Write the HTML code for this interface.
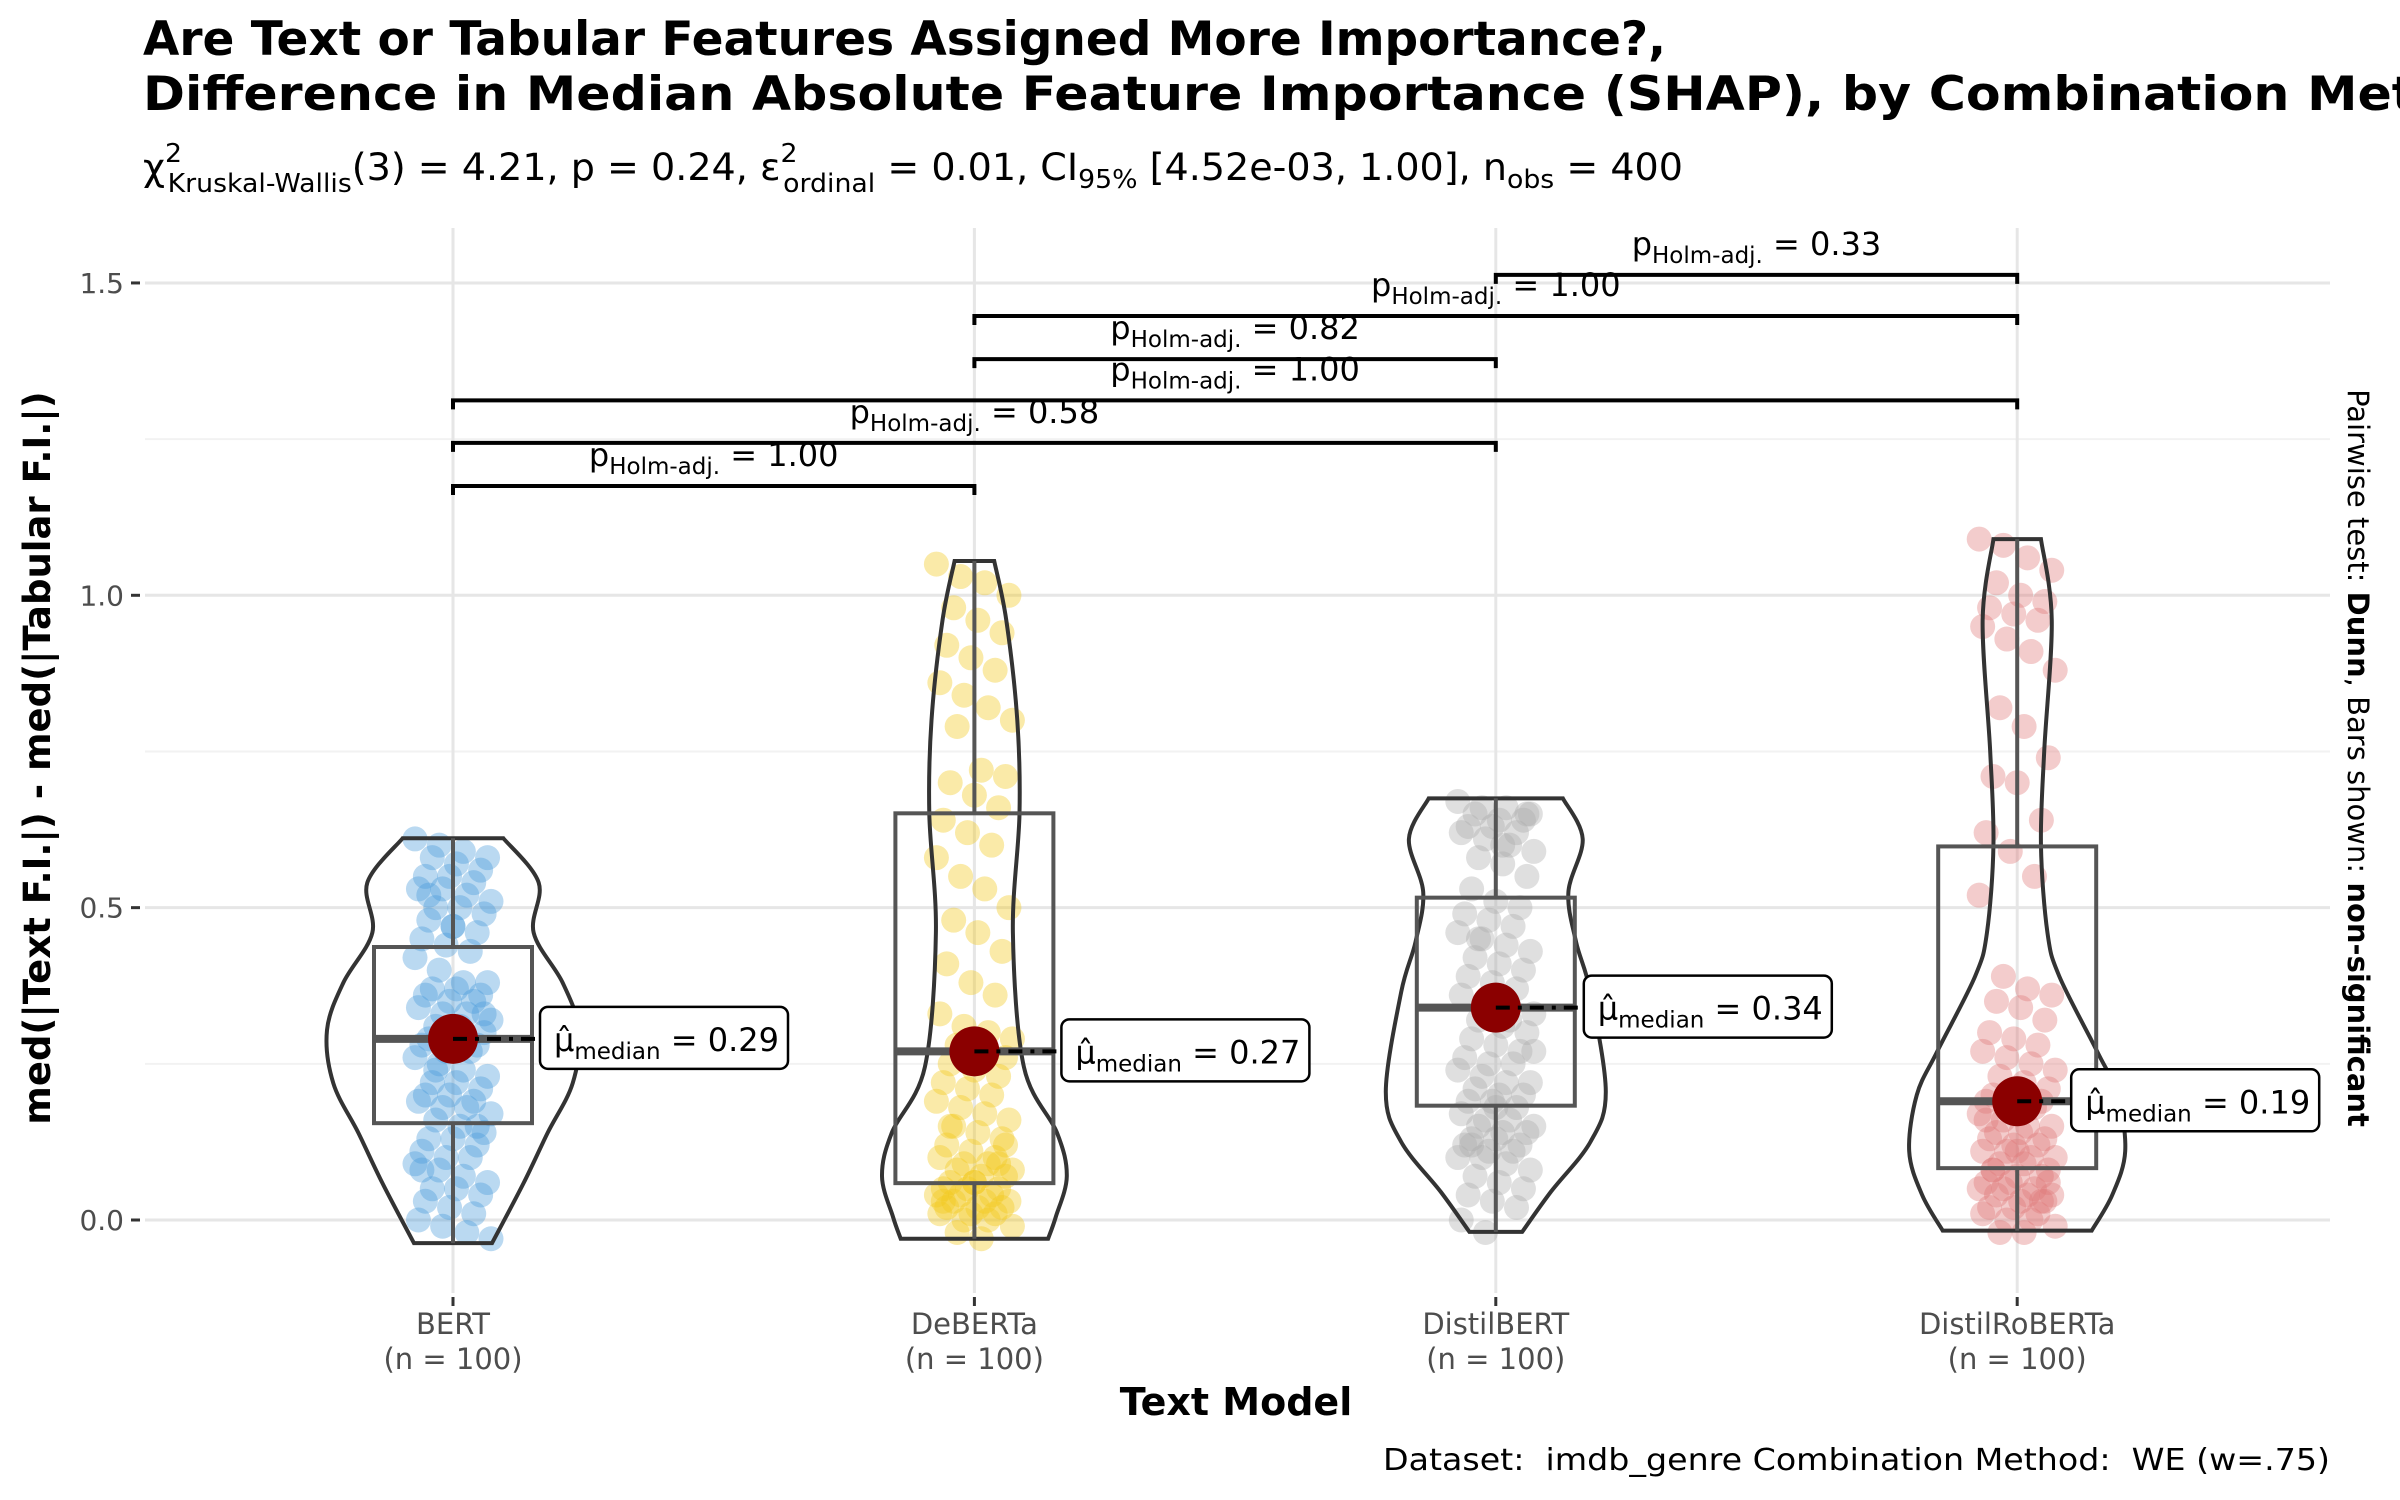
<!DOCTYPE html>
<html><head><meta charset="utf-8"><style>
html,body{margin:0;padding:0;background:#fff;}
svg{display:block;}
text{font-family:"DejaVu Sans","Liberation Sans",sans-serif;}
</style></head>
<body>
<svg id="chart" xmlns="http://www.w3.org/2000/svg" width="2400" height="1500" viewBox="0 0 2400 1500">
<rect x="0" y="0" width="2400" height="1500" fill="#fff"/>
<g id="grid"></g>
<g id="marks"></g>
<g id="labels"></g>
<text x="143" y="55" font-size="47" font-weight="bold" textLength="1523" lengthAdjust="spacingAndGlyphs">Are Text or Tabular Features Assigned More Importance?,</text>
<text x="143" y="110" font-size="47" font-weight="bold" textLength="2380" lengthAdjust="spacingAndGlyphs">Difference in Median Absolute Feature Importance (SHAP), by Combination Method</text>
<text x="143" y="180" font-size="37" textLength="1540" lengthAdjust="spacingAndGlyphs">χ<tspan font-size="26" dy="-18">2</tspan><tspan font-size="26" dx="-14" dy="30">Kruskal-Wallis</tspan><tspan dy="-12">(3) = 4.21, p = 0.24, ε</tspan><tspan font-size="26" dy="-18">2</tspan><tspan font-size="26" dx="-14" dy="30">ordinal</tspan><tspan dy="-12"> = 0.01, CI</tspan><tspan font-size="26" dy="8">95%</tspan><tspan dy="-8"> [4.52e-03, 1.00], n</tspan><tspan font-size="26" dy="8">obs</tspan><tspan dy="-8"> = 400</tspan></text>
<text x="1236" y="1415" font-size="38" font-weight="bold" text-anchor="middle">Text Model</text>
<text transform="translate(50,758) rotate(-90)" font-size="37" font-weight="bold" text-anchor="middle">med(|Text F.I.|) - med(|Tabular F.I.|)</text>
<text transform="translate(2348,758) rotate(90)" font-size="29" text-anchor="middle">Pairwise test: <tspan font-weight="bold">Dunn</tspan>, Bars shown: <tspan font-weight="bold">non-significant</tspan></text>
<text x="1383" y="1470" font-size="30" xml:space="preserve" style="white-space:pre" textLength="947" lengthAdjust="spacingAndGlyphs">Dataset:  imdb_genre Combination Method:  WE (w=.75)</text>
</svg>
<script>
// ---- data ----
const categories = ["BERT","DeBERTa","DistilBERT","DistilRoBERTa"];
const counts = [100,100,100,100];
const medians = [0.29,0.27,0.34,0.19];
const q1s = [0.155,0.059,0.183,0.083];
const q3s = [0.437,0.651,0.516,0.598];
const mins = [-0.037,-0.03,-0.019,-0.017];
const maxs = [0.611,1.055,0.675,1.09];
const colors = ["#4a9bd9","#f2c81a","#aaaaaa","#e07a7a"];
// violin density profiles: value levels and relative half-widths (0..1)
const violinLevels = [
 [-0.037,0.059,0.139,0.219,0.304,0.38,0.46,0.54,0.611],
 [-0.03,0.005,0.07,0.14,0.245,0.46,0.65,0.80,0.96,1.055],
 [-0.019,0.045,0.125,0.205,0.365,0.445,0.525,0.61,0.675],
 [-0.017,0.04,0.11,0.2,0.27,0.39,0.46,0.6,0.75,0.96,1.09]
];
const violinWidths = [
 [0.31,0.56,0.75,0.95,1.0,0.87,0.64,0.68,0.40],
 [0.67,0.74,0.84,0.75,0.45,0.35,0.41,0.39,0.29,0.18],
 [0.24,0.50,0.86,1.0,0.86,0.73,0.66,0.79,0.61],
 [0.69,0.88,1.0,0.93,0.74,0.39,0.28,0.22,0.25,0.32,0.22]
];
const violinMaxHalf = [126,110,110,108];
const bertPts = [0.61,0.6,0.59,0.58,0.58,0.57,0.56,0.55,0.55,0.54,0.53,0.53,0.52,0.51,0.5,0.5,0.49,0.48,0.47,0.46,0.45,0.44,0.43,0.42,0.4,0.38,0.38,0.37,0.37,0.36,0.36,0.35,0.35,0.34,0.33,0.33,0.32,0.31,0.3,0.3,0.29,0.29,0.28,0.28,0.27,0.27,0.26,0.25,0.24,0.23,0.22,0.22,0.21,0.2,0.2,0.19,0.19,0.18,0.18,0.17,0.16,0.15,0.14,0.13,0.13,0.12,0.11,0.1,0.1,0.09,0.08,0.07,0.06,0.05,0.05,0.04,0.03,0.02,0.01,0.0,-0.01,-0.02,-0.03,0.24,0.31,0.33,0.52,0.47,0.15,0.08];
const debertaPts = [1.05,1.03,1.02,1.0,0.98,0.96,0.94,0.92,0.9,0.88,0.86,0.84,0.82,0.8,0.79,0.72,0.71,0.7,0.68,0.66,0.64,0.62,0.6,0.58,0.55,0.53,0.5,0.48,0.46,0.43,0.41,0.38,0.36,0.33,0.31,0.3,0.29,0.28,0.27,0.26,0.25,0.24,0.23,0.22,0.21,0.2,0.19,0.18,0.17,0.16,0.15,0.14,0.13,0.12,0.11,0.1,0.1,0.09,0.09,0.08,0.08,0.07,0.07,0.06,0.06,0.05,0.05,0.05,0.04,0.04,0.04,0.03,0.03,0.03,0.02,0.02,0.02,0.01,0.01,0.01,0.0,0.0,-0.01,-0.02,-0.03,0.12,0.15,0.06,0.09,0.03];
const distilbertPts = [0.67,0.66,0.66,0.65,0.65,0.64,0.64,0.63,0.63,0.62,0.62,0.61,0.6,0.59,0.58,0.57,0.55,0.53,0.51,0.5,0.49,0.48,0.47,0.46,0.45,0.44,0.43,0.42,0.41,0.4,0.39,0.38,0.37,0.36,0.35,0.34,0.33,0.32,0.31,0.3,0.29,0.28,0.27,0.26,0.25,0.25,0.24,0.23,0.22,0.22,0.21,0.2,0.2,0.19,0.19,0.18,0.17,0.16,0.16,0.15,0.15,0.14,0.14,0.13,0.13,0.12,0.12,0.11,0.11,0.1,0.1,0.09,0.08,0.07,0.06,0.05,0.04,0.03,0.02,0.0,-0.02,0.32,0.27,0.45,0.6,0.65,0.12,0.18];
const distilrobertaPts = [1.09,1.08,1.06,1.04,1.02,1.0,0.99,0.98,0.97,0.96,0.95,0.93,0.91,0.88,0.82,0.79,0.74,0.71,0.7,0.64,0.62,0.59,0.55,0.52,0.39,0.37,0.36,0.35,0.34,0.32,0.3,0.29,0.28,0.27,0.26,0.25,0.24,0.23,0.22,0.21,0.2,0.2,0.19,0.19,0.18,0.18,0.17,0.16,0.15,0.15,0.14,0.14,0.13,0.13,0.12,0.12,0.11,0.11,0.1,0.1,0.09,0.09,0.08,0.08,0.07,0.07,0.06,0.06,0.05,0.05,0.05,0.04,0.04,0.04,0.03,0.03,0.02,0.02,0.01,0.01,0.0,0.0,-0.01,-0.02,-0.02,0.06,0.08,0.11,0.03,0.16];
const groupPoints = [bertPts,debertaPts,distilbertPts,distilrobertaPts];
const pairFrom = [0,0,0,1,1,2];
const pairTo = [1,2,3,2,3,3];
const pairP = ["1.00","0.58","1.00","0.82","1.00","0.33"];
const pairLevel = [1.175,1.244,1.312,1.378,1.447,1.513];
const yTicks = [0,0.5,1.0,1.5];
const yTickLabels = ["0.0","0.5","1.0","1.5"];
const yMinor = [0.25,0.75,1.25];

// ---- scales ----
const plotL=145, plotR=2330, plotT=228, plotB=1293;
const labelOffsets=[87,87,88,54];
function y(v){ return 1220 - v*624.7; }
function x(i){ return 453 + i*521.4; }
const NS="http://www.w3.org/2000/svg";
function mk(parent,tag,attrs){ const e=document.createElementNS(NS,tag); for(const k in attrs) e.setAttribute(k,attrs[k]); parent.appendChild(e); return e; }
const grid=document.getElementById('grid'), marks=document.getElementById('marks'), labs=document.getElementById('labels');

yMinor.forEach(v=>{
  const l=mk(grid,'line',{x1:plotL,x2:plotR,y1:y(v),y2:y(v),stroke:'#f2f2f2','stroke-width':2});
  
  
});
yTicks.forEach((v,k)=>{
  const l=mk(grid,'line',{x1:plotL,x2:plotR,y1:y(v),y2:y(v),stroke:'#e6e6e6','stroke-width':3});
  
  
  const t=mk(grid,'line',{x1:131,x2:140,y1:y(v),y2:y(v),stroke:'#333','stroke-width':3});
  
  
  const tx=mk(grid,'text',{x:124,y:y(v)+10,'font-size':28,'text-anchor':'end',fill:'#4d4d4d'});
  tx.textContent=yTickLabels[k];
  
  
});
categories.forEach((c,i)=>{
  const l=mk(grid,'line',{x1:x(i),x2:x(i),y1:plotT,y2:plotB,stroke:'#e6e6e6','stroke-width':3});
  
  
  const t=mk(grid,'line',{x1:x(i),x2:x(i),y1:1297,y2:1306,stroke:'#333','stroke-width':3});
  
  
  const a=mk(grid,'text',{x:x(i),y:1334,'font-size':29,'text-anchor':'middle',fill:'#4d4d4d'});
  a.textContent=c;
  
  
  const b=mk(grid,'text',{x:x(i),y:1369,'font-size':29,'text-anchor':'middle',fill:'#4d4d4d'});
  b.textContent='(n = '+counts[i]+')';
  
  
});

function smoothSide(pts){ // catmull-rom
  let d='';
  for(let k=0;k<pts.length-1;k++){
    const p0=pts[Math.max(k-1,0)],p1=pts[k],p2=pts[k+1],p3=pts[Math.min(k+2,pts.length-1)];
    const c1=[p1[0]+(p2[0]-p0[0])/6,p1[1]+(p2[1]-p0[1])/6];
    const c2=[p2[0]-(p3[0]-p1[0])/6,p2[1]-(p3[1]-p1[1])/6];
    d+=` C${c1[0]},${c1[1]} ${c2[0]},${c2[1]} ${p2[0]},${p2[1]}`;
  }
  return d;
}

categories.forEach((c,i)=>{
  const cx=x(i);
  groupPoints[i].forEach((v,k)=>{
    const off=(((k*53)%23)-11)/11*38;
    const p=mk(marks,'circle',{cx:cx+off,cy:y(v),r:12.5,fill:colors[i],'fill-opacity':0.38});
    
    
  });
  const lv=violinLevels[i], wd=violinWidths[i], mh=violinMaxHalf[i];
  const right=lv.map((v,k)=>[cx+wd[k]*mh,y(v)]);
  const left=lv.map((v,k)=>[cx-wd[k]*mh,y(v)]).reverse();
  let d=`M${right[0][0]},${right[0][1]}`+smoothSide(right)+` L${left[0][0]},${left[0][1]}`+smoothSide(left)+' Z';
  const vp=mk(marks,'path',{d:d,fill:'none',stroke:'#333','stroke-width':4});
  
  
  const w1=mk(marks,'line',{x1:cx,x2:cx,y1:y(q3s[i]),y2:y(maxs[i]),stroke:'#555','stroke-width':4});
  
  
  const w2=mk(marks,'line',{x1:cx,x2:cx,y1:y(q1s[i]),y2:y(mins[i]),stroke:'#555','stroke-width':4});
  
  
  const bx=mk(marks,'rect',{x:cx-79,y:y(q3s[i]),width:158,height:y(q1s[i])-y(q3s[i]),fill:'none',stroke:'#555','stroke-width':4});
  
  
  const md=mk(marks,'line',{x1:cx-79,x2:cx+79,y1:y(medians[i]),y2:y(medians[i]),stroke:'#555','stroke-width':8});
  
  
  const lx=cx+labelOffsets[i], ly=y(medians[i]);
  const dl=mk(labs,'line',{x1:cx,x2:lx,y1:ly,y2:ly,stroke:'#000','stroke-width':4,'stroke-dasharray':'14,8,4,8'});
  
  
  const mp=mk(marks,'circle',{cx:cx,cy:ly,r:25,fill:'#8b0000'});
  
  
  const lr=mk(labs,'rect',{x:lx,y:ly-32,width:248,height:62,rx:8,fill:'#fff',stroke:'#000','stroke-width':2.5});
  
  
  const lt=mk(labs,'text',{x:lx+14,y:ly+12,'font-size':32});
  
  
  lt.innerHTML='μ̂<tspan font-size="23" dy="8">median</tspan><tspan dy="-8"> = '+medians[i].toFixed(2)+'</tspan>';
});

pairFrom.forEach((a,k)=>{
  const b=pairTo[k], yy=y(pairLevel[k]);
  const br=mk(labs,'path',{d:`M${x(a)},${yy+9} V${yy} H${x(b)} V${yy+9}`,fill:'none',stroke:'#000','stroke-width':4});
  
  
  const t=mk(labs,'text',{x:(x(a)+x(b))/2,y:yy-20,'font-size':32,'text-anchor':'middle'});
  
  
  t.innerHTML='p<tspan font-size="23" dy="8">Holm-adj.</tspan><tspan dy="-8"> = '+pairP[k]+'</tspan>';
});
</script>
</body></html>
